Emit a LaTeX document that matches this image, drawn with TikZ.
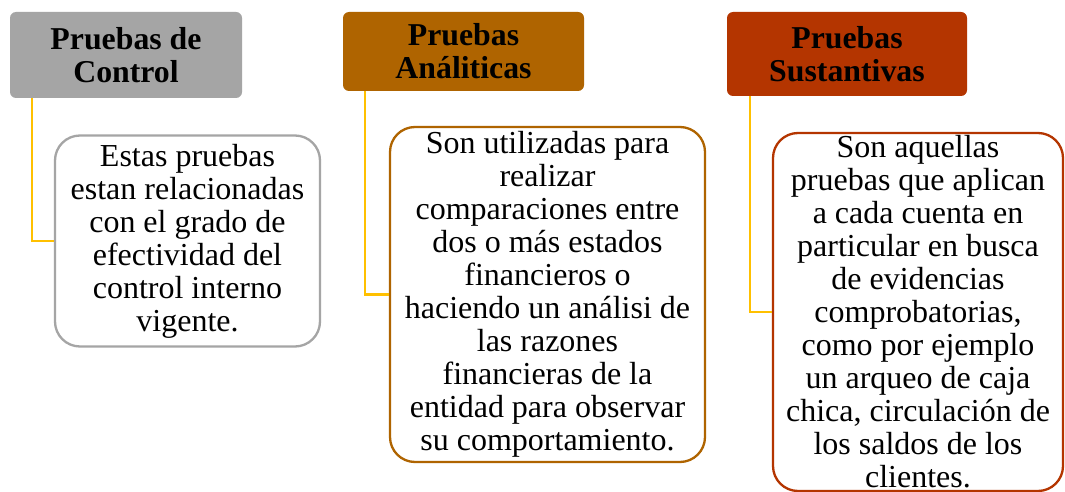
\documentclass[tikz,border=0pt]{standalone}
\usepackage{fontspec}
\setmainfont{Liberation Serif}
\usepackage{tikz}

\definecolor{grisctl}{HTML}{A5A5A5}
\definecolor{cafeana}{HTML}{AF6400}
\definecolor{rojosus}{HTML}{B43500}
\definecolor{amarillo}{HTML}{FFC000}

\tikzset{
  titulo/.style={rounded corners=6pt, align=center, inner sep=0pt,
    font=\fontsize{31.8}{33}\selectfont\bfseries},
  cuerpo/.style={rounded corners=25pt, draw, line width=2.3pt, fill=white,
    align=center, inner sep=0pt, font=\fontsize{32}{33}\selectfont},
  enlace/.style={amarillo, line width=2.6pt}
}

\begin{document}
\begin{tikzpicture}[x=1pt,y=-1pt]
\useasboundingbox[fill=white] (0,0) rectangle (1065,492);

% cabeceras
\node[titulo, fill=grisctl, minimum width=232pt, minimum height=86pt] (h1) at (126,55) {Pruebas de\\Control};
\node[titulo, fill=cafeana, minimum width=241pt, minimum height=79pt] (h2) at (463.5,51.5) {Pruebas\\Análiticas};
\node[titulo, fill=rojosus, minimum width=240pt, minimum height=84pt] (h3) at (847,54) {Pruebas\\Sustantivas};

% cuadros de texto
\node[cuerpo, draw=grisctl, minimum width=265pt, minimum height=211pt] (b1) at (187.5,241)
  {Estas pruebas\\estan relacionadas\\con el grado de\\efectividad del\\control interno\\vigente.};
\node[cuerpo, draw=cafeana, minimum width=315pt, minimum height=335pt] (b2) at (547.5,294.5)
  {Son utilizadas para\\realizar\\comparaciones entre\\dos o más estados\\financieros o\\haciendo un análisi de\\las razones\\financieras de la\\entidad para observar\\su comportamiento.};
\node[cuerpo, draw=rojosus, minimum width=290pt, minimum height=358pt] (b3) at (918,312)
  {Son aquellas\\pruebas que aplican\\a cada cuenta en\\particular en busca\\de evidencias\\comprobatorias,\\como por ejemplo\\un arqueo de caja\\chica, circulación de\\los saldos de los\\clientes.};

\draw[enlace] ([xshift=22pt]h1.south west) |- (b1.west);
\draw[enlace] ([xshift=22pt]h2.south west) |- (b2.west);
\draw[enlace] ([xshift=23pt]h3.south west) |- (b3.west);
\end{tikzpicture}
\end{document}
